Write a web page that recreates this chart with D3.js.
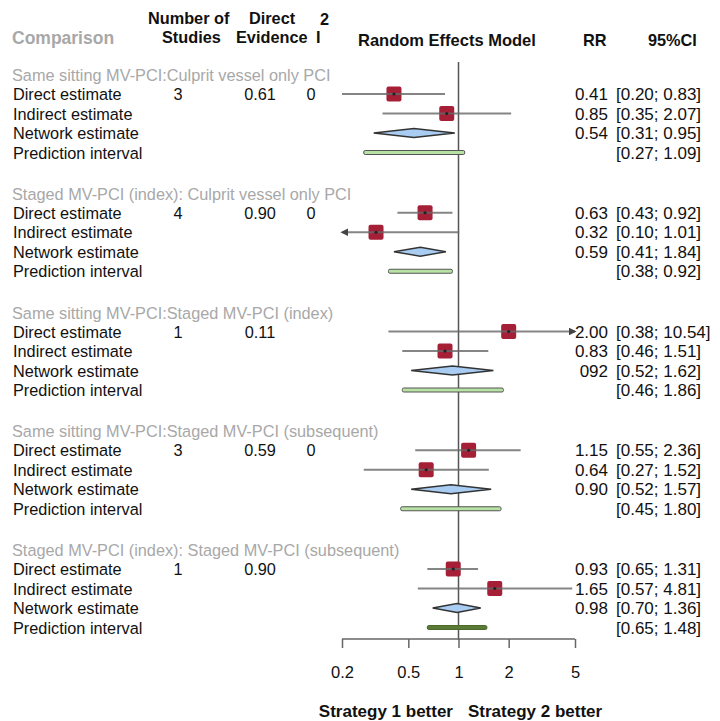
<!DOCTYPE html>
<html>
<head>
<meta charset="utf-8">
<script src="https://cdn.jsdelivr.net/npm/d3@7/dist/d3.min.js"></script>
<style>
  body { margin: 0; background: #fff; }
  svg { font-family: "Liberation Sans", Arial, Helvetica, sans-serif; }
</style>
</head>
<body>
<div id="chart"></div>
<script>
// Comparisons (one block each)
const comparisons = [
    'Same sitting MV-PCI:Culprit vessel only PCI',
    'Staged MV-PCI (index): Culprit vessel only PCI',
    'Same sitting MV-PCI:Staged MV-PCI (index)',
    'Same sitting MV-PCI:Staged MV-PCI (subsequent)',
    'Staged MV-PCI (index): Staged MV-PCI (subsequent)'
];
const rowLabels = ['Direct estimate', 'Indirect estimate', 'Network estimate', 'Prediction interval'];
const studies = ['3', '4', '1', '3', '1'];
const directEvidence = ['0.61', '0.90', '0.11', '0.59', '0.90'];
const iSquared = ['0', '0', '', '0', ''];

// Plotted values (RR and 95% CI)
const directRR = [0.41, 0.63, 2.00, 1.15, 0.93];
const directLo = [0.20, 0.43, 0.38, 0.55, 0.65];
const directHi = [0.83, 0.92, 10.54, 2.36, 1.31];
const indirectRR = [0.85, 0.32, 0.83, 0.64, 1.65];
const indirectLo = [0.35, 0.10, 0.46, 0.27, 0.57];
const indirectHi = [2.07, 1.01, 1.51, 1.52, 4.81];
const networkRR = [0.54, 0.59, 0.92, 0.90, 0.98];
const networkLo = [0.31, 0.41, 0.52, 0.52, 0.70];
const networkHi = [0.95, 0.84, 1.62, 1.57, 1.36];
const predLo = [0.27, 0.38, 0.46, 0.45, 0.65];
const predHi = [1.09, 0.92, 1.86, 1.80, 1.48];

// Printed text in the right columns (as shown, including its typos)
const rrText = [
    ['0.41', '0.85', '0.54', ''],
    ['0.63', '0.32', '0.59', ''],
    ['2.00', '0.83', '092', ''],
    ['1.15', '0.64', '0.90', ''],
    ['0.93', '1.65', '0.98', '']
];
const ciText = [
    ['[0.20; 0.83]', '[0.35; 2.07]', '[0.31; 0.95]', '[0.27; 1.09]'],
    ['[0.43; 0.92]', '[0.10; 1.01]', '[0.41; 1.84]', '[0.38; 0.92]'],
    ['[0.38; 10.54]', '[0.46; 1.51]', '[0.52; 1.62]', '[0.46;  1.86]'],
    ['[0.55; 2.36]', '[0.27; 1.52]', '[0.52; 1.57]', '[0.45; 1.80]'],
    ['[0.65; 1.31]', '[0.57; 4.81]', '[0.70; 1.36]', '[0.65; 1.48]']
];
const ticks = [0.2, 0.5, 1, 2, 5];

const width = 720, height = 721;

const svg = d3.select('#chart').append('svg')
    .attr('width', width)
    .attr('height', height);

svg.append('defs').append('marker')
    .attr('id', 'arrow')
    .attr('viewBox', '0 0 10 10')
    .attr('refX', 8).attr('refY', 5)
    .attr('markerWidth', 3.5).attr('markerHeight', 3.5)
    .attr('orient', 'auto-start-reverse')
    .append('path')
    .attr('d', 'M0,0L10,5L0,10Z')
    .attr('fill', '#444');

const x = d3.scaleLog().domain([0.2, 5]).range([342, 575]);

// block / row positions
const block = d3.scaleLinear().domain([0, 4]).range([94, 569]);
const rowStep = 19.5;
const rowY = (b, r) => block(b) + r * rowStep;

// column headers
const head = svg.append('g').attr('font-size', 16.3).attr('font-weight', 'bold').attr('fill', '#111');
head.append('text').attr('x', 12).attr('y', 44).attr('fill', '#a8a8a8').attr('font-size', 17.5).text('Comparison');
head.append('text').attr('x', 148).attr('y', 24).text('Number of');
head.append('text').attr('x', 162).attr('y', 43).text('Studies');
head.append('text').attr('x', 249).attr('y', 24).text('Direct');
head.append('text').attr('x', 236).attr('y', 43).text('Evidence');
head.append('text').attr('x', 316).attr('y', 43).text('I');
head.append('text').attr('x', 320).attr('y', 25).text('2');
head.append('text').attr('x', 358).attr('y', 46).attr('font-size', 16.5).text('Random Effects Model');
head.append('text').attr('x', 583).attr('y', 46).text('RR');
head.append('text').attr('x', 648).attr('y', 46).text('95%CI');

// reference line at RR = 1
svg.append('line')
    .attr('x1', x(1)).attr('x2', x(1))
    .attr('y1', 62).attr('y2', 640)
    .attr('stroke', '#555').attr('stroke-width', 1.5);

const txt = svg.append('g').attr('font-size', 16.3).attr('fill', '#111');

comparisons.forEach((c, b) => {
    txt.append('text')
        .attr('x', 12).attr('y', rowY(b, 0) - 13)
        .attr('fill', '#a8a8a8')
        .text(c);

    rowLabels.forEach((lab, r) => {
        txt.append('text')
            .attr('x', 13).attr('y', rowY(b, r) + 6)
            .text(lab);
        if (rrText[b][r]) {
            txt.append('text')
                .attr('x', 608).attr('y', rowY(b, r) + 6)
                .attr('font-size', 17)
                .attr('text-anchor', 'end')
                .text(rrText[b][r]);
        }
        txt.append('text')
            .attr('x', 616).attr('y', rowY(b, r) + 6)
            .attr('font-size', 17)
            .text(ciText[b][r]);
    });

    txt.append('text').attr('x', 178).attr('y', rowY(b, 0) + 6).attr('text-anchor', 'middle').text(studies[b]);
    txt.append('text').attr('x', 260).attr('y', rowY(b, 0) + 6).attr('text-anchor', 'middle').text(directEvidence[b]);
    txt.append('text').attr('x', 311).attr('y', rowY(b, 0) + 6).attr('text-anchor', 'middle').text(iSquared[b]);
});

const marks = svg.append('g');
const clamp = v => Math.max(0.2, Math.min(5, v));

function estimate(b, r, rr, lo, hi) {
    const y = rowY(b, r);
    const s = 15;
    marks.append('rect')
        .attr('x', x(rr) - s / 2).attr('y', y - s / 2)
        .attr('width', s).attr('height', s)
        .attr('rx', 2)
        .attr('fill', '#a51f37');
    const ln = marks.append('line')
        .attr('x1', x(clamp(lo))).attr('x2', x(clamp(hi)))
        .attr('y1', y).attr('y2', y)
        .attr('stroke', '#666').attr('stroke-opacity', 0.8)
        .attr('stroke-width', 2.2);
    if (lo < 0.2) ln.attr('marker-start', 'url(#arrow)');
    if (hi > 5) ln.attr('marker-end', 'url(#arrow)');
    marks.append('circle')
        .attr('cx', x(rr)).attr('cy', y).attr('r', 1.6)
        .attr('fill', '#222');
}

comparisons.forEach((c, b) => {
    estimate(b, 0, directRR[b], directLo[b], directHi[b]);
    estimate(b, 1, indirectRR[b], indirectLo[b], indirectHi[b]);

    const y2 = rowY(b, 2);
    const h = 4.5;
    marks.append('path')
        .attr('d', `M${x(networkLo[b])},${y2}L${x(networkRR[b])},${y2 - h}L${x(networkHi[b])},${y2}L${x(networkRR[b])},${y2 + h}Z`)
        .attr('fill', '#a9cdf2')
        .attr('stroke', '#333').attr('stroke-width', 1.3);

    const y3 = rowY(b, 3);
    marks.append('rect')
        .attr('x', x(predLo[b])).attr('y', y3 - 2)
        .attr('width', x(predHi[b]) - x(predLo[b])).attr('height', 4)
        .attr('rx', 1.5)
        .attr('fill', b === 4 ? '#5a7a35' : '#b8e2a4')
        .attr('stroke', b === 4 ? '#4a6a2a' : '#555').attr('stroke-width', 1);
});

// axis
const axis = d3.axisBottom(x)
    .tickValues(ticks)
    .tickFormat(d3.format('~g'))
    .tickSizeInner(-9)
    .tickSizeOuter(0)
    .tickPadding(0);

const ax = svg.append('g')
    .attr('transform', 'translate(0,648)')
    .call(axis);
ax.select('.domain').remove();
ax.append('line')
    .attr('x1', x(0.2)).attr('x2', x(5))
    .attr('y1', -9).attr('y2', -9)
    .attr('stroke', '#666').attr('stroke-width', 1.5);
ax.selectAll('.tick line').attr('stroke', '#666').attr('stroke-width', 1.5);
ax.selectAll('.tick text')
    .attr('font-size', 16.5)
    .attr('fill', '#111')
    .attr('dy', 0)
    .attr('y', 30)
    .attr('font-family', '"Liberation Sans", Arial, sans-serif');

const foot = svg.append('g').attr('font-size', 17).attr('font-weight', 'bold').attr('fill', '#111');
foot.append('text').attr('x', 453).attr('y', 717).attr('text-anchor', 'end').text('Strategy 1 better');
foot.append('text').attr('x', 468).attr('y', 717).text('Strategy 2 better');
</script>
</body>
</html>
